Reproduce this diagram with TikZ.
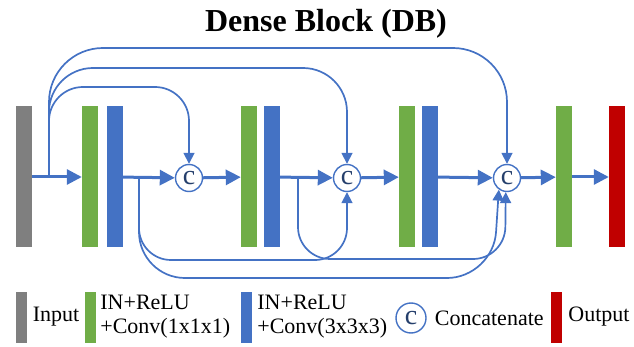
\documentclass[tikz,border=0pt]{standalone}
\usepackage{fontspec}
\setmainfont{Liberation Serif}
\usetikzlibrary{arrows.meta, positioning, calc}

\definecolor{ingray}{RGB}{127,127,127}
\definecolor{bngreen}{RGB}{112,173,71}
\definecolor{convblue}{RGB}{68,114,196}
\definecolor{outred}{RGB}{192,0,0}

\begin{document}
\begin{tikzpicture}[
    x=1pt, y=-1pt,                    % <── work in pixel-like units, y down
    node distance=5pt,
    bar_node/.style={rectangle, inner sep=0pt, minimum width=16pt, minimum height=141pt},
    in_node/.style={bar_node, fill=ingray},
    bn_node/.style={bar_node, fill=bngreen},
    conv_node/.style={bar_node, fill=convblue},
    out_node/.style={bar_node, fill=outred},
    cat_node/.style={circle, draw=convblue, line width=1.4pt, fill=white, inner sep=0pt,
        minimum size=27pt, text=convblue!55!black, font=\fontsize{28}{28}\selectfont},
    leg_bar/.style={rectangle, inner sep=0pt, minimum width=11pt, minimum height=51pt},
    leg_text/.style={inner sep=1pt, align=left, font=\fontsize{22}{24}\selectfont},
    flow/.style={draw=convblue, line width=3pt, -{Triangle[length=15pt, width=15pt]}},
    skip_line/.style={draw=convblue, line width=1.7pt, -{Triangle[length=11pt, width=11pt]}}
    ]
    \useasboundingbox (0,0) rectangle (634,347);

    % Title
    \node[anchor=base, font=\bfseries\fontsize{32}{32}\selectfont] (title) at (326,32) {Dense Block (DB)};

    % Nodes
    \node[in_node]   (in)  at (24,177)  {};
    \node[bn_node]   (g1)  at (90,177)  {};
    \node[conv_node] (b1)  at (115,177) {};
    \node[cat_node]  (c1)  at (189,178) {c};
    \node[bn_node]   (g2)  at (249,177) {};
    \node[conv_node] (b2)  at (272,177) {};
    \node[cat_node]  (c2)  at (347,178) {c};
    \node[bn_node]   (g3)  at (407,177) {};
    \node[conv_node] (b3)  at (430,177) {};
    \node[cat_node]  (c3)  at (507,178) {c};
    \node[bn_node]   (g4)  at (564,177) {};
    \node[out_node]  (out) at (617,177) {};

    % Branch and turning points
    \coordinate (a)  at (49,177);
    \coordinate (p1) at (139,177);
    \coordinate (p2) at (298,177);
    \coordinate (t1) at (189,87);
    \coordinate (t2) at (347,68);
    \coordinate (t3) at (507,48);
    \coordinate (u1) at (347,260);
    \coordinate (u2) at (493,278);
    \coordinate (u3) at (505,259);

    % Arrows
    \draw[flow] (in) -- (g1);
    \draw[flow] (b1) -- (c1);
    \draw[flow] (c1) -- (g2);
    \draw[flow] (b2) -- (c2);
    \draw[flow] (c2) -- (g3);
    \draw[flow] (b3) -- (c3);
    \draw[flow] (c3) -- (g4);
    \draw[flow] (g4) -- (out);

    % Dense connections
    \draw[skip_line, rounded corners=34pt] (a) |- (t1) -- (c1);
    \draw[skip_line, rounded corners=44pt] (a) |- (t2) -- (c2);
    \draw[skip_line, rounded corners=54pt] (a) |- (t3) -- (c3);
    \draw[skip_line, rounded corners=32pt] (p1) |- (u1) -- (c2);
    \draw[skip_line, rounded corners=46pt] (p1) |- (u2) -- (c3.235);
    \draw[skip_line, rounded corners=32pt] (p2) |- (u3) -- (c3.265);

    % Legend
    \node[leg_bar, fill=ingray] (leg_in) at (21,317) {};
    \node[leg_text, right=5pt of leg_in] (leg_in_txt) {Input};
    \node[leg_bar, fill=bngreen] (leg_bn) at (90.5,317) {};
    \node[leg_text, right=3pt of leg_bn] (leg_bn_txt) {IN+ReLU\\+Conv(1x1x1)};
    \node[leg_bar, fill=convblue] (leg_conv) at (246.5,317) {};
    \node[leg_text, right=4pt of leg_conv] (leg_conv_txt) {IN+ReLU\\+Conv(3x3x3)};
    \node[cat_node, minimum size=30pt] (leg_cat) at (411,318) {c};
    \node[leg_text, right=7pt of leg_cat] (leg_cat_txt) {Concatenate};
    \node[leg_bar, fill=outred] (leg_out) at (556.5,317) {};
    \node[leg_text, right=5pt of leg_out] (leg_out_txt) {Output};
\end{tikzpicture}
\end{document}
